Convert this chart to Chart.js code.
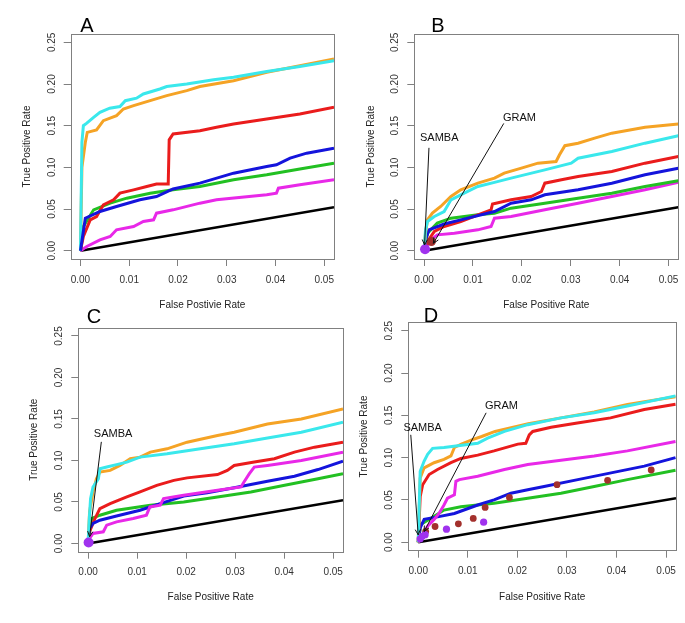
<!DOCTYPE html>
<html>
<head>
<meta charset="utf-8">
<script src="https://cdn.jsdelivr.net/npm/chart.js@4.4.0/dist/chart.umd.min.js"></script>
<style>
  body { margin: 0; background: #fff; width: 685px; height: 623px; overflow: hidden; position: relative; }
  canvas { position: absolute; }
</style>
</head>
<body>
<canvas id="panelA" style="left:0px;top:0px" width="345" height="316"></canvas>
<canvas id="panelB" style="left:345px;top:0px" width="342" height="316"></canvas>
<canvas id="panelC" style="left:0px;top:305px" width="352" height="318"></canvas>
<canvas id="panelD" style="left:345px;top:305px" width="340" height="318"></canvas>
<script>
// Axis ticks
const xTicks = [0, 0.01, 0.02, 0.03, 0.04, 0.05];
const yTicks = [0, 0.05, 0.10, 0.15, 0.20, 0.25];

// Random classifier diagonal
const diag = [[0, 0], [0.052, 0.052]];

// Panel A curves [fpr, tpr]
const A_orange = [[0,0],[0.0003,0.1],[0.001,0.13],[0.0014,0.142],[0.0033,0.145],[0.0047,0.156],[0.0074,0.162],[0.0088,0.17],[0.0109,0.174],[0.0143,0.18],[0.0177,0.186],[0.0218,0.192],[0.0245,0.197],[0.0314,0.204],[0.0382,0.214],[0.045,0.222],[0.052,0.23]];
const A_cyan = [[0,0],[0.0003,0.13],[0.0006,0.15],[0.0013,0.153],[0.0027,0.16],[0.004,0.166],[0.006,0.171],[0.0081,0.173],[0.0092,0.18],[0.0115,0.183],[0.0129,0.188],[0.0163,0.194],[0.0177,0.197],[0.0218,0.2],[0.0273,0.205],[0.0314,0.208],[0.0382,0.215],[0.045,0.221],[0.052,0.228]];
const A_red = [[0,0],[0.0006,0.017],[0.002,0.037],[0.0033,0.041],[0.0047,0.055],[0.0068,0.061],[0.0081,0.069],[0.0109,0.073],[0.0136,0.077],[0.0156,0.08],[0.018,0.08],[0.0182,0.133],[0.019,0.14],[0.0245,0.144],[0.0279,0.148],[0.0314,0.152],[0.0382,0.158],[0.045,0.164],[0.052,0.172]];
const A_blue = [[0,0],[0.001,0.039],[0.004,0.047],[0.0074,0.053],[0.0122,0.061],[0.0156,0.065],[0.019,0.074],[0.0245,0.081],[0.0314,0.093],[0.0382,0.101],[0.0402,0.103],[0.043,0.111],[0.0464,0.117],[0.052,0.123]];
const A_green = [[0,0],[0.0006,0.029],[0.0027,0.049],[0.0061,0.057],[0.0095,0.063],[0.0143,0.069],[0.019,0.073],[0.0245,0.077],[0.0314,0.085],[0.0382,0.091],[0.045,0.098],[0.052,0.105]];
const A_magenta = [[0,0],[0.0013,0.005],[0.004,0.013],[0.0061,0.017],[0.0074,0.025],[0.0109,0.029],[0.0129,0.035],[0.015,0.037],[0.0156,0.045],[0.019,0.049],[0.0245,0.057],[0.0279,0.061],[0.0382,0.067],[0.0402,0.069],[0.0406,0.075],[0.045,0.079],[0.052,0.085]];

// Panel B
const B_orange = [[0,0],[0.0003,0.021],[0.0007,0.037],[0.0017,0.045],[0.0034,0.053],[0.0055,0.065],[0.0075,0.073],[0.011,0.081],[0.0144,0.087],[0.0164,0.093],[0.0199,0.099],[0.0233,0.105],[0.027,0.107],[0.0277,0.115],[0.0288,0.126],[0.0315,0.129],[0.0349,0.135],[0.0384,0.141],[0.0452,0.148],[0.052,0.152]];
const B_cyan = [[0,0],[0.0003,0.025],[0.0007,0.035],[0.0021,0.041],[0.0041,0.047],[0.0055,0.061],[0.0082,0.069],[0.011,0.077],[0.0144,0.082],[0.0178,0.087],[0.0247,0.097],[0.0301,0.105],[0.0315,0.111],[0.0384,0.119],[0.0452,0.129],[0.052,0.138]];
const B_red = [[0,0],[0.0007,0.011],[0.0021,0.023],[0.0041,0.029],[0.0075,0.035],[0.0137,0.049],[0.014,0.056],[0.0178,0.061],[0.0219,0.065],[0.024,0.071],[0.0247,0.081],[0.0281,0.085],[0.0315,0.089],[0.0384,0.095],[0.0452,0.105],[0.052,0.113]];
const B_blue = [[0,0],[0.0003,0.013],[0.001,0.025],[0.0041,0.032],[0.0075,0.037],[0.0144,0.047],[0.0178,0.057],[0.0219,0.061],[0.0247,0.067],[0.0315,0.073],[0.0384,0.081],[0.0452,0.091],[0.052,0.099]];
const B_green = [[0,0],[0.0007,0.021],[0.0027,0.033],[0.0055,0.039],[0.011,0.043],[0.0144,0.045],[0.0178,0.051],[0.0247,0.057],[0.0315,0.063],[0.0384,0.069],[0.0452,0.077],[0.052,0.084]];
const B_magenta = [[0,0],[0.0014,0.013],[0.0027,0.019],[0.0062,0.021],[0.011,0.025],[0.0137,0.029],[0.0144,0.039],[0.0178,0.041],[0.0247,0.049],[0.0315,0.057],[0.0384,0.065],[0.0452,0.073],[0.052,0.082]];
const B_gram = [[0.0015,0.011]];
const B_samba = [[0.0002,0.0016]];

// Panel C
const C_orange = [[0,0],[0.0003,0.038],[0.001,0.062],[0.0017,0.078],[0.0024,0.086],[0.0045,0.088],[0.0065,0.094],[0.0086,0.102],[0.0106,0.104],[0.0127,0.11],[0.0161,0.114],[0.0202,0.122],[0.0264,0.13],[0.0298,0.134],[0.0366,0.144],[0.0435,0.15],[0.052,0.162]];
const C_cyan = [[0,0],[0.0002,0.026],[0.0005,0.054],[0.001,0.068],[0.0021,0.078],[0.0024,0.09],[0.0038,0.092],[0.0058,0.095],[0.0079,0.098],[0.0106,0.104],[0.0161,0.108],[0.0229,0.114],[0.0298,0.12],[0.0366,0.127],[0.0435,0.134],[0.052,0.146]];
const C_red = [[0,0],[0.0003,0.014],[0.0014,0.03],[0.0024,0.042],[0.0045,0.048],[0.0079,0.056],[0.0106,0.062],[0.014,0.07],[0.0175,0.076],[0.0202,0.079],[0.0264,0.083],[0.0284,0.088],[0.0298,0.094],[0.0339,0.098],[0.038,0.102],[0.0421,0.11],[0.0462,0.116],[0.052,0.122]];
const C_blue = [[0,0],[0.0003,0.018],[0.001,0.024],[0.0024,0.028],[0.0058,0.033],[0.0106,0.04],[0.0147,0.048],[0.0195,0.057],[0.0243,0.061],[0.0298,0.067],[0.0332,0.071],[0.0366,0.075],[0.0421,0.081],[0.0469,0.089],[0.052,0.099]];
const C_green = [[0,0],[0.0007,0.03],[0.0024,0.034],[0.0058,0.04],[0.0127,0.046],[0.0195,0.05],[0.0264,0.056],[0.0332,0.062],[0.0401,0.07],[0.0469,0.078],[0.052,0.084]];
const C_magenta = [[0,0],[0.0003,0.006],[0.001,0.012],[0.0031,0.014],[0.0038,0.022],[0.0058,0.026],[0.0092,0.03],[0.0119,0.034],[0.0126,0.044],[0.0147,0.046],[0.0154,0.054],[0.0195,0.058],[0.0264,0.064],[0.0312,0.068],[0.0318,0.074],[0.0329,0.084],[0.0339,0.092],[0.0366,0.094],[0.0435,0.1],[0.052,0.11]];
const C_samba = [[0.0001,0.001]];

// Panel D
const D_cyan = [[0,0],[0.0002,0.044],[0.0004,0.084],[0.0012,0.096],[0.0019,0.104],[0.0029,0.111],[0.0052,0.112],[0.012,0.117],[0.014,0.123],[0.0174,0.131],[0.0221,0.139],[0.0288,0.147],[0.0355,0.153],[0.0422,0.161],[0.0519,0.173]];
const D_orange = [[0,0],[0.0004,0.076],[0.0012,0.088],[0.0032,0.094],[0.0052,0.098],[0.0066,0.102],[0.0073,0.112],[0.0087,0.116],[0.0108,0.121],[0.0128,0.125],[0.0155,0.131],[0.0222,0.14],[0.0288,0.147],[0.0355,0.154],[0.0422,0.163],[0.0519,0.172]];
const D_red = [[0,0],[0.0004,0.054],[0.0009,0.068],[0.0022,0.08],[0.0039,0.086],[0.0066,0.094],[0.0086,0.099],[0.012,0.103],[0.0153,0.108],[0.0201,0.116],[0.0217,0.117],[0.0224,0.127],[0.0231,0.131],[0.0268,0.136],[0.0321,0.141],[0.0388,0.147],[0.0456,0.157],[0.0519,0.163]];
const D_magenta = [[0,0],[0.0019,0.019],[0.0032,0.027],[0.0042,0.034],[0.0052,0.044],[0.0059,0.052],[0.0073,0.056],[0.0076,0.072],[0.0083,0.074],[0.012,0.078],[0.0174,0.086],[0.0221,0.092],[0.0288,0.097],[0.0355,0.102],[0.0422,0.108],[0.0519,0.119]];
const D_blue = [[0,0],[0.0004,0.017],[0.0012,0.027],[0.0039,0.03],[0.0073,0.034],[0.012,0.044],[0.0153,0.05],[0.0187,0.058],[0.0221,0.062],[0.0254,0.066],[0.0322,0.074],[0.0389,0.082],[0.0456,0.09],[0.0519,0.1]];
const D_green = [[0,0],[0.0005,0.021],[0.0025,0.028],[0.0052,0.038],[0.0086,0.042],[0.0153,0.046],[0.0221,0.052],[0.0288,0.058],[0.0355,0.066],[0.0422,0.074],[0.0519,0.085]];
const D_gram = [[0.0015,0.0127],[0.0034,0.0186],[0.0081,0.0218],[0.0111,0.0281],[0.0135,0.0411],[0.0184,0.053],[0.028,0.068],[0.0382,0.0732],[0.047,0.0854]];
const D_samba = [[0.0004,0.004],[0.0008,0.007],[0.0014,0.009],[0.0057,0.0154],[0.0132,0.0237]];

const FONT = '"Liberation Sans", Arial, Helvetica, sans-serif';
const COL = {
    orange: '#f5a325', cyan: '#3ae8ec', red: '#ea1c1c', blue: '#1414dc',
    green: '#22c022', magenta: '#e828e8', black: '#000000',
    brown: '#a3302c', purple: '#a032ee'
};

function curve(pts, color, width) {
    return {
        data: pts.map(p => ({ x: p[0], y: p[1] })),
        borderColor: color,
        borderWidth: width || 3,
        showLine: true,
        pointRadius: 0,
        tension: 0,
        fill: false
    };
}

function dots(pts, color, r) {
    return {
        data: pts.map(p => ({ x: p[0], y: p[1] })),
        backgroundColor: color,
        borderColor: color,
        borderWidth: 0,
        pointRadius: r,
        showLine: false
    };
}

// Box, panel letter and SAMBA / GRAM arrows
const panelDeco = {
    id: 'panelDeco',
    afterDraw(chart, args, opts) {
        const { ctx, chartArea: a, scales } = chart;
        const px = v => scales.x.getPixelForValue(v);
        const py = v => scales.y.getPixelForValue(v);
        ctx.save();
        ctx.strokeStyle = '#808080';
        ctx.lineWidth = 1;
        ctx.strokeRect(Math.round(a.left) + 0.5, Math.round(a.top) + 0.5,
            Math.round(a.right - a.left), Math.round(a.bottom - a.top));

        ctx.fillStyle = '#000';
        ctx.font = '20px ' + FONT;
        ctx.textAlign = 'center';
        ctx.textBaseline = 'alphabetic';
        ctx.fillText(opts.letter, opts.letterX, opts.letterY);

        ctx.font = '11px ' + FONT;
        ctx.textBaseline = 'middle';
        ctx.strokeStyle = '#111';
        (opts.notes || []).forEach(n => {
            ctx.fillStyle = '#111';
            ctx.fillText(n.text, px(n.at[0]), py(n.at[1]));
            const x0 = px(n.from[0]), y0 = py(n.from[1]);
            const x1 = px(n.to[0]), y1 = py(n.to[1]);
            ctx.beginPath();
            ctx.moveTo(x0, y0);
            ctx.lineTo(x1, y1);
            const ang = Math.atan2(y1 - y0, x1 - x0);
            const h = 6;
            ctx.moveTo(x1 - h * Math.cos(ang - 0.45), y1 - h * Math.sin(ang - 0.45));
            ctx.lineTo(x1, y1);
            ctx.lineTo(x1 - h * Math.cos(ang + 0.45), y1 - h * Math.sin(ang + 0.45));
            ctx.stroke();
        });
        ctx.restore();
    }
};

function makePanel(id, p) {
    const tickFont = { family: FONT, size: 10 };
    new Chart(document.getElementById(id), {
        type: 'scatter',
        data: { datasets: p.datasets },
        options: {
            responsive: false,
            animation: false,
            events: [],
            layout: { padding: { left: 0, top: p.top, right: p.right, bottom: 0 } },
            plugins: {
                legend: { display: false },
                tooltip: { enabled: false },
                panelDeco: { letter: p.letter, letterX: p.letterX, letterY: p.letterY, notes: p.notes }
            },
            scales: {
                x: {
                    type: 'linear', min: -0.002, max: 0.052,
                    afterBuildTicks: s => { s.ticks = xTicks.map(v => ({ value: v })); },
                    afterFit: s => { s.height = p.xHeight; },
                    ticks: { callback: v => v.toFixed(2), color: '#333', font: tickFont, padding: 8, autoSkip: false, maxRotation: 0 },
                    grid: { drawOnChartArea: false, drawTicks: true, tickLength: 7, color: '#808080' },
                    border: { display: false },
                    title: { display: true, text: p.xTitle, color: '#222', font: tickFont, padding: { top: 0, bottom: p.xTitlePad } }
                },
                y: {
                    type: 'linear', min: -0.01, max: 0.26,
                    afterBuildTicks: s => { s.ticks = yTicks.map(v => ({ value: v })); },
                    afterFit: s => { s.width = p.yWidth; },
                    ticks: { callback: v => v.toFixed(2), color: '#333', font: tickFont, padding: 2, autoSkip: false, minRotation: 90, maxRotation: 90, crossAlign: 'center' },
                    grid: { drawOnChartArea: false, drawTicks: true, tickLength: 7, color: '#808080' },
                    border: { display: false },
                    title: { display: true, text: 'True Positive Rate', color: '#222', font: tickFont, padding: { top: p.yTitlePad, bottom: 0 } }
                }
            }
        },
        plugins: [panelDeco]
    });
}

makePanel('panelA', {
    letter: 'A', letterX: 87, letterY: 32,
    top: 34, right: 11, xHeight: 57, yWidth: 70.7, xTitlePad: 5, yTitlePad: 21,
    xTitle: 'False Postivie Rate',
    datasets: [
        curve(A_blue, COL.blue), curve(A_cyan, COL.cyan), curve(A_orange, COL.orange),
        curve(A_red, COL.red), curve(A_green, COL.green), curve(A_magenta, COL.magenta),
        curve(diag, COL.black, 2.5)
    ]
});

makePanel('panelB', {
    letter: 'B', letterX: 93, letterY: 32,
    top: 34, right: 8.7, xHeight: 57, yWidth: 69.3, xTitlePad: 5, yTitlePad: 20,
    xTitle: 'False Positive Rate',
    notes: [
        { text: 'SAMBA', at: [0.0031, 0.1347], from: [0.001, 0.1234], to: [0.0001, 0.0068] },
        { text: 'GRAM', at: [0.0195, 0.1597], from: [0.0163, 0.1527], to: [0.0019, 0.0088] }
    ],
    datasets: [
        dots(B_samba, COL.purple, 5), dots(B_gram, COL.brown, 4.5),
        curve(B_cyan, COL.cyan), curve(B_orange, COL.orange), curve(B_blue, COL.blue),
        curve(B_red, COL.red), curve(B_green, COL.green), curve(B_magenta, COL.magenta),
        curve(diag, COL.black, 2.5)
    ]
});

makePanel('panelC', {
    letter: 'C', letterX: 94, letterY: 18,
    top: 22.7, right: 9, xHeight: 71.3, yWidth: 78.3, xTitlePad: 19.3, yTitlePad: 28,
    xTitle: 'False Positive Rate',
    notes: [
        { text: 'SAMBA', at: [0.0051, 0.1325], from: [0.0027, 0.1224], to: [0.0003, 0.008] }
    ],
    datasets: [
        dots(C_samba, COL.purple, 5),
        curve(C_cyan, COL.cyan), curve(C_orange, COL.orange), curve(C_magenta, COL.magenta),
        curve(C_blue, COL.blue), curve(C_red, COL.red), curve(C_green, COL.green),
        curve(diag, COL.black, 2.5)
    ]
});

makePanel('panelD', {
    letter: 'D', letterX: 86, letterY: 17,
    top: 17.3, right: 9, xHeight: 72.3, yWidth: 63.3, xTitlePad: 19.3, yTitlePad: 13,
    xTitle: 'False Positive Rate',
    notes: [
        { text: 'SAMBA', at: [0.0009, 0.1354], from: [-0.0015, 0.127], to: [0, 0.0087] },
        { text: 'GRAM', at: [0.0168, 0.161], from: [0.0137, 0.153], to: [0.0012, 0.0127] }
    ],
    datasets: [
        dots(D_samba, COL.purple, 3.6), dots(D_gram, COL.brown, 3.4),
        curve(D_cyan, COL.cyan), curve(D_orange, COL.orange), curve(D_red, COL.red),
        curve(D_magenta, COL.magenta), curve(D_blue, COL.blue), curve(D_green, COL.green),
        curve(diag, COL.black, 2.5)
    ]
});
</script>
</body>
</html>
